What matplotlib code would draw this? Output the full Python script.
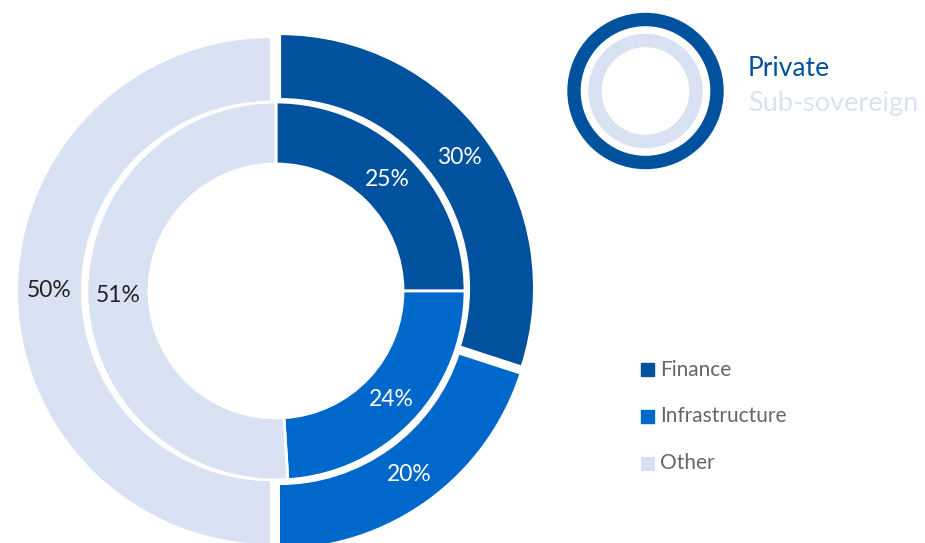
import matplotlib
matplotlib.use("Agg")
import matplotlib.pyplot as plt
from matplotlib.patches import Wedge, Rectangle

categories = ["Finance", "Infrastructure", "Other"]
private_vals = [30, 20, 50]        # outer ring
subsov_vals = [25, 24, 51]         # inner ring
ring_names = ["Private", "Sub-sovereign"]
colors = ["#00519E", "#0068CA", "#D9E2F3"]
label_colors = ["white", "white", "#222222"]

plt.rcParams['font.family'] = ['Lato', 'DejaVu Sans']
FW = 'normal'

W, H = 925, 543
fig = plt.figure(figsize=(W / 100, H / 100), dpi=100)
ax = fig.add_axes([0, 0, 1, 1])

cx, cy = 276, H - 291
R_out, R_mid, R_in = 254, 189, 127

# outer ring (Private)
w1, t1, a1 = ax.pie(private_vals, radius=R_out, center=(cx, cy), startangle=90,
                    counterclock=False, colors=colors, explode=[5, 5, 5],
                    wedgeprops=dict(width=R_out - R_mid, edgecolor='white', linewidth=1.5),
                    autopct=lambda p: '%d%%' % round(p), pctdistance=0.872,
                    textprops=dict(fontsize=16.5, fontweight=FW), frame=True)
# inner ring (Sub-sovereign)
w2, t2, a2 = ax.pie(subsov_vals, radius=R_mid, center=(cx, cy), startangle=90,
                    counterclock=False, colors=colors,
                    wedgeprops=dict(width=R_mid - R_in, edgecolor='white', linewidth=2.0),
                    autopct=lambda p: '%d%%' % round(p), pctdistance=0.836,
                    textprops=dict(fontsize=16.5, fontweight=FW), frame=True)
for txts in (a1, a2):
    for t, c in zip(txts, label_colors):
        t.set_color(c)

ax.set_xlim(0, W)
ax.set_ylim(0, H)
ax.set_aspect('auto')
ax.axis('off')

# ring legend
lx, ly = 645.5, H - 91
ax.add_patch(Wedge((lx, ly), 77.5, 0, 360, width=12, color=colors[0]))
ax.add_patch(Wedge((lx, ly), 56.5, 0, 360, width=12, color=colors[2]))
ax.text(748, H - 68, ring_names[0], color=colors[0], fontsize=19, fontweight=FW,
        va='center', ha='left')
ax.text(748, H - 104, ring_names[1], color=colors[2], fontsize=19.5, fontweight=FW,
        va='center', ha='left')

# category legend
leg_y = [369.5, 416.5, 463]
for name, col, y in zip(categories, colors, leg_y):
    ax.add_patch(Rectangle((641, H - y - 6.5), 13, 13, color=col))
    ax.text(660, H - y, name, color='#666666', fontsize=15, fontweight=FW,
            va='center', ha='left')

fig.savefig("out.png", dpi=100)
